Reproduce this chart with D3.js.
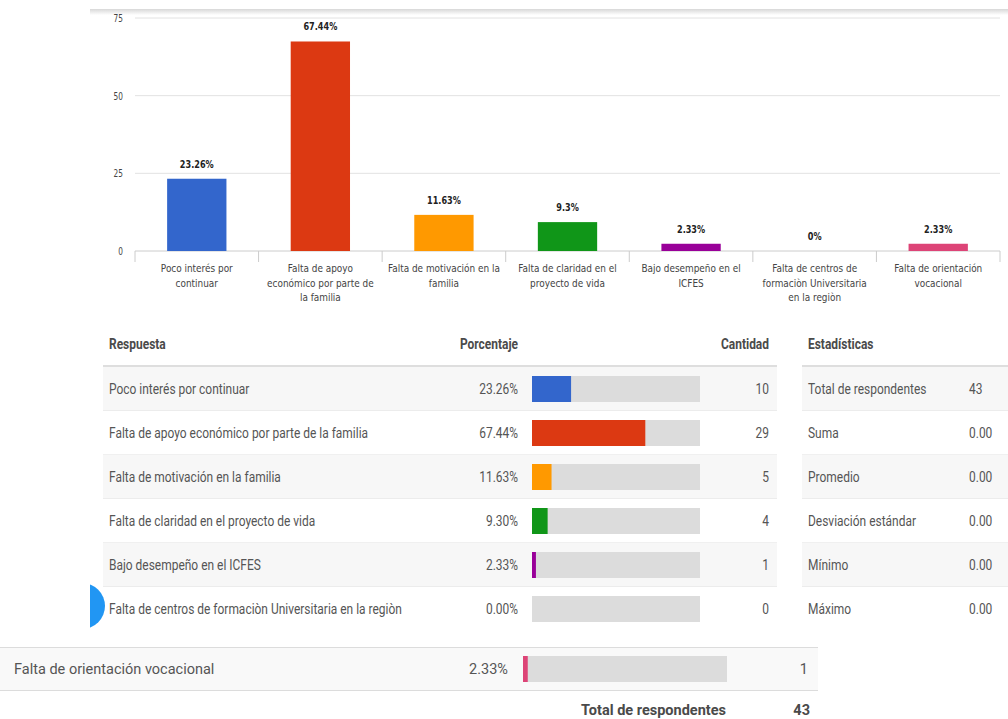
<!DOCTYPE html>
<html><head><meta charset="utf-8">
<script src="https://cdn.jsdelivr.net/npm/d3@7"></script>
<style>html,body{margin:0;padding:0;background:#fff;overflow:hidden}</style>
</head><body><svg id="c" width="1008" height="719"></svg>
<script>
const categories = [
  "Poco interés por continuar",
  "Falta de apoyo económico por parte de la familia",
  "Falta de motivación en la familia",
  "Falta de claridad en el proyecto de vida",
  "Bajo desempeño en el ICFES",
  "Falta de centros de formaciòn Universitaria en la regiòn",
  "Falta de orientación vocacional"
];
const chartLabelLines = [
  ["Poco interés por", "continuar"],
  ["Falta de apoyo", "económico por parte de", "la familia"],
  ["Falta de motivación en la", "familia"],
  ["Falta de claridad en el", "proyecto de vida"],
  ["Bajo desempeño en el", "ICFES"],
  ["Falta de centros de", "formaciòn Universitaria", "en la regiòn"],
  ["Falta de orientación", "vocacional"]
];
const percentages = [23.26, 67.44, 11.63, 9.30, 2.33, 0, 2.33];
const counts = [10, 29, 5, 4, 1, 0, 1];
const colors = ["#3366cc", "#dc3912", "#ff9900", "#109618", "#990099", "#0099c6", "#dd4477"];
const yTicks = [0, 25, 50, 75];
const tableHeaders = ["Respuesta", "Porcentaje", "Cantidad", "Estadísticas"];
const statLabels = ["Total de respondentes", "Suma", "Promedio", "Desviación estándar", "Mínimo", "Máximo"];
const statValues = ["43", "0.00", "0.00", "0.00", "0.00", "0.00"];
const totalLabel = "Total de respondentes";
const totalRespondents = 43;

const svg = d3.select("#c");
svg.append("rect").attr("width", 1008).attr("height", 719).attr("fill", "#fff");

const SQ = 0.855;  // horizontal squeeze of upper screenshot (table)
const CSQ = 0.81;  // chart label squeeze
const VSQ = 0.74;  // chart value label squeeze

function txt(g, x, y, s, o) {
  o = o || {};
  return g.append("text")
    .attr("transform", `translate(${x},${y}) scale(${o.sx == null ? 1 : o.sx},1)`)
    .attr("text-anchor", o.anchor || "start")
    .attr("font-family", o.font || "Roboto")
    .attr("font-size", o.size || 14)
    .attr("font-weight", o.weight || "normal")
    .attr("fill", o.fill || "#555")
    .text(s);
}

// top shadow
const defs = svg.append("defs");
const gr = defs.append("linearGradient").attr("id", "sh").attr("x1", 0).attr("y1", 0).attr("x2", 0).attr("y2", 1);
gr.append("stop").attr("offset", 0).attr("stop-color", "#d8d8d8");
gr.append("stop").attr("offset", 1).attr("stop-color", "#fff");
svg.append("rect").attr("x", 90).attr("y", 9).attr("width", 918).attr("height", 6).attr("fill", "url(#sh)");

// ---- Chart ----
const x = d3.scaleBand().domain(categories).range([135, 1000]).paddingInner(0.52).paddingOuter(0.26);
const y = d3.scaleLinear().domain([0, 75]).range([251, 18]);
const chart = svg.append("g");

chart.selectAll(".grid").data(yTicks).join("line")
  .attr("x1", 135).attr("x2", 1000)
  .attr("y1", d => y(d)).attr("y2", d => y(d))
  .attr("stroke", d => d === 0 ? "#ccc" : "#e2e2e2").attr("stroke-width", 1);

yTicks.forEach(t => txt(chart, 123, y(t) + 4, String(t), {anchor: "end", font: "DejaVu Sans", size: 10, fill: "#444", sx: VSQ}));

const step = x.step();
d3.range(categories.length + 1).forEach(i => {
  const xx = x.range()[0] + i * step;
  chart.append("line").attr("x1", xx).attr("x2", xx).attr("y1", y(0)).attr("y2", y(0) + 11)
    .attr("stroke", "#ccc");
});

chart.selectAll(".bar").data(percentages).join("rect")
  .attr("x", (d, i) => x(categories[i]))
  .attr("y", d => y(d))
  .attr("width", x.bandwidth())
  .attr("height", d => y(0) - y(d))
  .attr("fill", (d, i) => colors[i]);

percentages.forEach((v, i) => {
  txt(chart, x(categories[i]) + x.bandwidth() / 2, y(v) - 11, (+v) + "%",
    {anchor: "middle", font: "DejaVu Sans", size: 11, weight: "bold", fill: "#222", sx: VSQ});
  chartLabelLines[i].forEach((ln, j) => {
    txt(chart, x(categories[i]) + x.bandwidth() / 2, 272 + j * 14.5, ln,
      {anchor: "middle", font: "DejaVu Sans", size: 11, fill: "#444", sx: CSQ});
  });
});

// ---- Table ----
const tbl = svg.append("g");
const top0 = 367, rowH = 44;
const mainL = 103, mainR = 777, statL = 802, statR = 1008;
const pctX = d3.scaleLinear().domain([0, 100]).range([532, 700]);

txt(tbl, 109, 349, tableHeaders[0], {weight: "bold", size: 14, sx: SQ, fill: "#4a4a4a"});
txt(tbl, 518, 349, tableHeaders[1], {weight: "bold", size: 14, sx: SQ, anchor: "end", fill: "#4a4a4a"});
txt(tbl, 769, 349, tableHeaders[2], {weight: "bold", size: 14, sx: SQ, anchor: "end", fill: "#4a4a4a"});
txt(tbl, 808, 349, tableHeaders[3], {weight: "bold", size: 14, sx: SQ, fill: "#4a4a4a"});

const nMain = 6;
for (let i = 0; i < nMain; i++) {
  const t = top0 + i * rowH;
  const bg = i % 2 === 0 ? "#f7f7f7" : "#fff";
  const h = i === nMain - 1 ? 40 : rowH;
  tbl.append("rect").attr("x", mainL).attr("y", t).attr("width", mainR - mainL).attr("height", h).attr("fill", bg);
  tbl.append("rect").attr("x", statL).attr("y", t).attr("width", statR - statL).attr("height", h).attr("fill", bg);
  if (i < nMain - 1) {
    tbl.append("line").attr("x1", mainL).attr("x2", mainR).attr("y1", t + rowH).attr("y2", t + rowH).attr("stroke", "#e0e0e0");
    tbl.append("line").attr("x1", statL).attr("x2", statR).attr("y1", t + rowH).attr("y2", t + rowH).attr("stroke", "#e0e0e0");
  }
  const by = t + 27;
  txt(tbl, 109, by, categories[i], {sx: SQ});
  txt(tbl, 518, by, percentages[i].toFixed(2) + "%", {sx: SQ, anchor: "end"});
  tbl.append("rect").attr("x", pctX(0)).attr("y", t + 9).attr("width", pctX(100) - pctX(0)).attr("height", 26).attr("fill", "#dcdcdc");
  tbl.append("rect").attr("x", pctX(0)).attr("y", t + 9).attr("width", pctX(percentages[i]) - pctX(0)).attr("height", 26).attr("fill", colors[i]);
  txt(tbl, 769, by, String(counts[i]), {sx: SQ, anchor: "end"});
  txt(tbl, 808, by, statLabels[i], {sx: SQ});
  txt(tbl, 969, by, statValues[i], {sx: SQ});
}
// header borders
tbl.append("rect").attr("x", mainL).attr("y", 365).attr("width", mainR - mainL).attr("height", 2).attr("fill", "#dedede");
tbl.append("rect").attr("x", statL).attr("y", 365).attr("width", statR - statL).attr("height", 2).attr("fill", "#dedede");

// blue floating circle
defs.append("clipPath").attr("id", "cl").append("rect").attr("x", 90).attr("y", 580).attr("width", 40).attr("height", 50);
svg.append("circle").attr("cx", 82).attr("cy", 606).attr("r", 23).attr("fill", "#2196f3").attr("clip-path", "url(#cl)");

// ---- bottom row (other screenshot) ----
const bot = svg.append("g");
const bi = 6;
const pctX2 = d3.scaleLinear().domain([0, 100]).range([523, 727]);
bot.append("rect").attr("x", 0).attr("y", 647).attr("width", 818).attr("height", 43).attr("fill", "#f9f9f9");
bot.append("line").attr("x1", 0).attr("x2", 818).attr("y1", 647.5).attr("y2", 647.5).attr("stroke", "#dcdcdc");
bot.append("line").attr("x1", 0).attr("x2", 818).attr("y1", 690.5).attr("y2", 690.5).attr("stroke", "#dcdcdc");
txt(bot, 14, 674, categories[bi], {size: 14.5});
txt(bot, 508, 674, percentages[bi].toFixed(2) + "%", {size: 14.5, anchor: "end"});
bot.append("rect").attr("x", pctX2(0)).attr("y", 656).attr("width", pctX2(100) - pctX2(0)).attr("height", 26).attr("fill", "#dcdcdc");
bot.append("rect").attr("x", pctX2(0)).attr("y", 656).attr("width", pctX2(percentages[bi]) - pctX2(0)).attr("height", 26).attr("fill", colors[bi]);
txt(bot, 808, 674, String(counts[bi]), {size: 14.5, anchor: "end"});
txt(bot, 726, 715, totalLabel, {size: 14.5, weight: "bold", anchor: "end", fill: "#4a4a4a"});
txt(bot, 810, 715, String(totalRespondents), {size: 14.5, weight: "bold", anchor: "end", fill: "#4a4a4a"});
</script></body></html>
